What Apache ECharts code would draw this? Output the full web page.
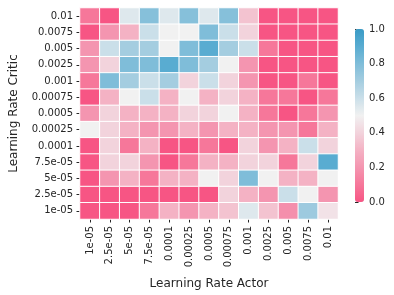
<!DOCTYPE html>
<html><head><meta charset="utf-8">
<script src="https://cdn.jsdelivr.net/npm/echarts@6/dist/echarts.min.js"></script>
<style>html,body{margin:0;padding:0;background:#fff}#c{width:394px;height:295px}</style>
</head><body><div id="c"></div>
<script>
const actorLabels = ['1e-05','2.5e-05','5e-05','7.5e-05','0.0001','0.00025','0.0005','0.00075','0.001','0.0025','0.005','0.0075','0.01'];
const criticLabels = ['0.01','0.0075','0.005','0.0025','0.001','0.00075','0.0005','0.00025','0.0001','7.5e-05','5e-05','2.5e-05','1e-05'];
// rows top to bottom (critic), columns left to right (actor)
const row_0_01    = [0.1,0.0,0.55,0.78,0.55,0.78,0.55,0.78,0.35,0,0,0,0];
const row_0_0075  = [0.0,0.2,0.3,0.6,0.5,0.5,0.8,0.6,0.4,0,0,0,0];
const row_0_005   = [0.2,0.6,0.7,0.7,0.5,0.8,0.9,0.7,0.6,0.1,0,0,0];
const row_0_0025  = [0.2,0.4,0.8,0.8,0.9,0.8,0.7,0.5,0.2,0,0,0,0];
const row_0_001   = [0.1,0.8,0.7,0.6,0.7,0.4,0.6,0.4,0.2,0,0,0.1,0];
const row_0_00075 = [0.0,0.3,0.5,0.6,0.3,0.5,0.3,0.4,0.3,0.1,0.1,0,0.1];
const row_0_0005  = [0.2,0.4,0.3,0.3,0.3,0.4,0.4,0.5,0.3,0.1,0,0.1,0.2];
const row_0_00025 = [0.5,0.4,0.3,0.2,0.2,0.3,0.2,0.3,0.3,0.2,0.2,0.1,0.3];
const row_0_0001  = [0.0,0.4,0.1,0.3,0,0,0.1,0,0.4,0.2,0.3,0.6,0.4];
const row_7_5e_05 = [0.0,0.4,0.4,0.2,0,0.1,0.3,0.3,0.4,0.4,0.1,0.4,0.9];
const row_5e_05   = [0.0,0.2,0.3,0.1,0.3,0.3,0.5,0.4,0.8,0.5,0.3,0.3,0.5];
const row_2_5e_05 = [0,0,0,0,0,0,0,0.4,0.3,0.2,0.6,0.5,0.2];
const row_1e_05   = [0,0,0,0.1,0.3,0.2,0.3,0.35,0.55,0.35,0.18,0.72,0.45];
const rows = [row_0_01,row_0_0075,row_0_005,row_0_0025,row_0_001,row_0_00075,row_0_0005,row_0_00025,row_0_0001,row_7_5e_05,row_5e_05,row_2_5e_05,row_1e_05];

const data = [];
rows.forEach((r, yi) => r.forEach((v, xi) => data.push([xi, yi, v])));

const txt = '#262626';
const font = 'DejaVu Sans';
const chart = echarts.init(document.getElementById('c'), null, {renderer:'canvas'});
chart.setOption({
  animation: false,
  backgroundColor: '#fff',
  textStyle: {fontFamily: font},
  grid: [
    {left: 71, top: 8, width: 267, height: 216},
    {left: 355, top: 29, width: 9, height: 173}
  ],
  xAxis: [
    {type: 'category', gridIndex: 0, data: actorLabels,
     name: 'Learning Rate Actor', nameLocation: 'middle', nameGap: 59,
     nameTextStyle: {fontSize: 12, color: txt, fontFamily: font},
     axisLine: {show: false}, splitLine: {show: false},
     axisTick: {show: true, alignWithLabel: true, length: 3.5, lineStyle: {color: txt}},
     axisLabel: {rotate: 90, fontSize: 10, color: txt, margin: 7, interval: 0, fontFamily: font}},
    {type: 'value', gridIndex: 1, show: false, min: 0, max: 1}
  ],
  yAxis: [
    {type: 'category', gridIndex: 0, data: criticLabels, inverse: true,
     name: 'Learning Rate Critic', nameLocation: 'middle', nameGap: 60,
     nameTextStyle: {fontSize: 12, color: txt, fontFamily: font},
     axisLine: {show: false}, splitLine: {show: false},
     axisTick: {show: true, alignWithLabel: true, length: 3.5, lineStyle: {color: txt}},
     axisLabel: {fontSize: 10, color: txt, margin: 7, interval: 0, fontFamily: font}},
    {type: 'value', gridIndex: 1, position: 'right', min: 0, max: 1, interval: 0.2,
     axisLine: {show: false}, splitLine: {show: false},
     axisTick: {show: true, length: 3.5, lineStyle: {color: txt}},
     axisLabel: {fontSize: 10, color: txt, margin: 5, fontFamily: font,
                 formatter: v => v.toFixed(1)}}
  ],
  visualMap: {
    type: 'continuous', min: 0, max: 1, calculable: false, seriesIndex: 0,
    left: 355, top: 29, itemWidth: 9, itemHeight: 173, padding: 0,
    text: null, showLabel: false, hoverLink: false,
    inRange: {color: ['#f75584','#f6779a','#f495b0','#f4b2c4','#f2d3dc','#f1f1f1','#cadfe9','#a4cde0','#7fbdd9','#59acd1','#3a9bc6']}
  },
  series: [
    {type: 'heatmap', xAxisIndex: 0, yAxisIndex: 0, data: data,
     itemStyle: {borderColor: '#fff', borderWidth: 1}},
    {type: 'scatter', xAxisIndex: 1, yAxisIndex: 1, data: [], silent: true}
  ]
});
</script></body></html>
